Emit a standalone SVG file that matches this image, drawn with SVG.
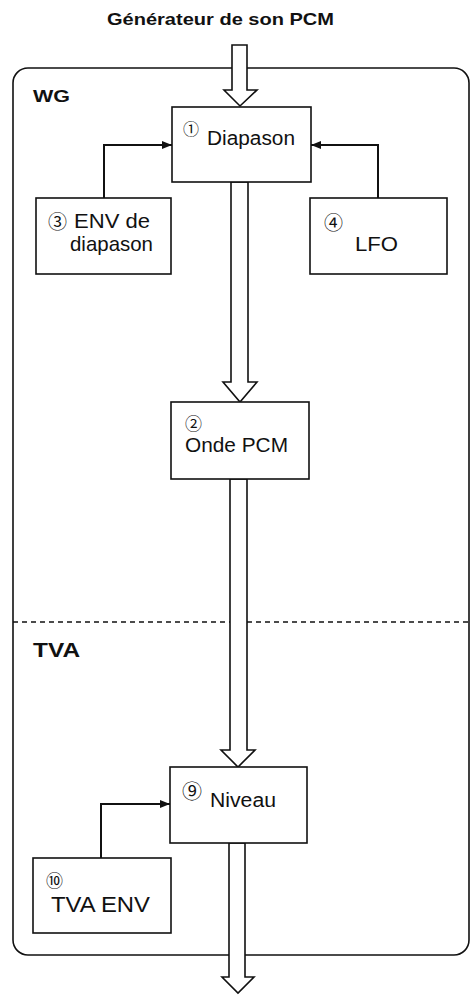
<svg xmlns="http://www.w3.org/2000/svg" width="473" height="996" viewBox="0 0 473 996">
<defs>
<marker id="ah" viewBox="0 0 10 8" refX="10" refY="4" markerWidth="10" markerHeight="8" markerUnits="userSpaceOnUse" orient="auto">
<path d="M0,0 L10,4 L0,8 Z" fill="#111"/>
</marker>
</defs>
<style>
.box{fill:#fff;stroke:#111;stroke-width:1.6}
.frame{fill:none;stroke:#111;stroke-width:1.6}
.dash{fill:none;stroke:#111;stroke-width:1.5;stroke-dasharray:5,4}
.big{fill:#fff;stroke:#111;stroke-width:1.6;stroke-linejoin:miter}
.con{fill:none;stroke:#111;stroke-width:2}
.t{font-family:"Liberation Sans","Noto Sans CJK JP",sans-serif;fill:#111}
.b{font-weight:bold}
.n{font-family:"Noto Sans CJK JP","DejaVu Sans",sans-serif;fill:#111}
</style>
<rect width="473" height="996" fill="#fff"/>
<text class="t b" x="107" y="25" font-size="17" textLength="227" lengthAdjust="spacingAndGlyphs">Générateur de son PCM</text>
<g id="frame">
<rect class="frame" x="13" y="68" width="456" height="887" rx="15" ry="15"/>
<line class="dash" x1="13" y1="622" x2="469" y2="622"/>
<text class="t b" x="33" y="102" font-size="17" textLength="37" lengthAdjust="spacingAndGlyphs">WG</text>
<text class="t b" x="33" y="657" font-size="20" textLength="47" lengthAdjust="spacingAndGlyphs">TVA</text>
</g>
<g id="connectors">
<polygon class="big" points="232,45 247,45 247,90 257,90 240,106 224,90 232,90"/>
<polygon class="big" points="231,182 248,182 248,382 257,382 240,402 223,382 231,382"/>
<polygon class="big" points="230,479 247,479 247,750 255,750 238,767 221,750 230,750"/>
<polygon class="big" points="229,843 245,843 245,977 254,977 238,993 222,977 229,977"/>
<path class="con" d="M104,198 V145 H172" marker-end="url(#ah)"/>
<path class="con" d="M378,198 V145 H311" marker-end="url(#ah)"/>
<path class="con" d="M101,858 V804 H170" marker-end="url(#ah)"/>
</g>
<g id="n1">
<rect class="box" x="172" y="107" width="139" height="75"/>
<text class="n" x="183" y="135" font-size="16">①</text>
<text class="t" x="207" y="145" font-size="20" textLength="88" lengthAdjust="spacingAndGlyphs">Diapason</text>
</g>
<g id="n3">
<rect class="box" x="36" y="198" width="135" height="76"/>
<text class="n" x="48" y="229" font-size="19">③</text>
<text class="t" x="74" y="228" font-size="21" textLength="76" lengthAdjust="spacingAndGlyphs">ENV de</text>
<text class="t" x="70" y="251" font-size="21" textLength="83" lengthAdjust="spacingAndGlyphs">diapason</text>
</g>
<g id="n4">
<rect class="box" x="310" y="198" width="137" height="76"/>
<text class="n" x="324" y="230" font-size="19">④</text>
<text class="t" x="355" y="251" font-size="21" textLength="43" lengthAdjust="spacingAndGlyphs">LFO</text>
</g>
<g id="n2">
<rect class="box" x="171" y="402" width="138" height="77"/>
<text class="n" x="185" y="430" font-size="17">②</text>
<text class="t" x="185" y="452" font-size="20" textLength="103" lengthAdjust="spacingAndGlyphs">Onde PCM</text>
</g>
<g id="n9">
<rect class="box" x="170" y="767" width="137" height="76"/>
<text class="n" x="182" y="799" font-size="20">⑨</text>
<text class="t" x="210" y="807" font-size="20" textLength="66" lengthAdjust="spacingAndGlyphs">Niveau</text>
</g>
<g id="n10">
<rect class="box" x="33" y="858" width="138" height="75"/>
<text class="n" x="46" y="887" font-size="17">⑩</text>
<text class="t" x="51" y="912" font-size="22" textLength="99" lengthAdjust="spacingAndGlyphs">TVA ENV</text>
</g>
</svg>
